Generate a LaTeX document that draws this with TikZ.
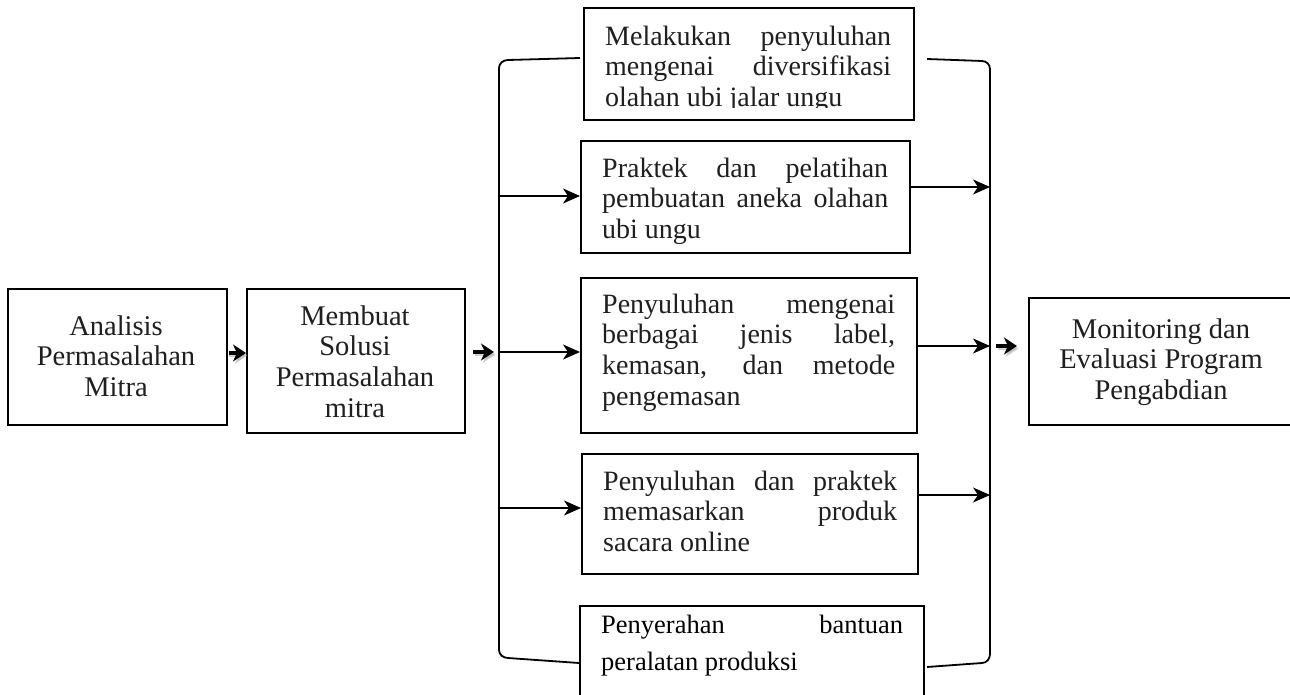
\documentclass[tikz,border=0pt]{standalone}
\usepackage{fontspec}
\setmainfont{Liberation Serif}
\usetikzlibrary{arrows.meta}
\newcommand{\jline}[2]{\makebox[#1][s]{\strut #2}}
\begin{document}
\begin{tikzpicture}[x=1pt,y=-1pt,
  box/.style={draw, line width=1.8pt, inner sep=0pt, anchor=north west},
  ctext/.style={inner sep=0pt, anchor=north, align=center, text=black!88, font=\fontsize{28.5}{30.7}\selectfont},
  jtext/.style={inner sep=0pt, anchor=north west, align=left, text=black!88, font=\fontsize{28}{30.7}\selectfont},
  ttext/.style={inner sep=0pt, anchor=north west, align=left, text=black, font=\fontsize{26.5}{37}\selectfont},
  arr/.style={line width=1.6pt, -{Stealth[length=17pt,width=15pt,inset=5pt]}},
  thk/.style={line width=3.6pt, -{Stealth[length=13pt,width=17pt,inset=4pt]}},
  shd/.style={line width=3.6pt, black!30, opacity=0.6, -{Stealth[length=13pt,width=17pt,inset=4pt]}},
  brk/.style={line width=1.8pt, line join=round}]
\useasboundingbox (0,0) rectangle (1290,695);
\fill[white] (0,0) rectangle (1290,695);

% boxes
\node[box, minimum width=219pt, minimum height=136pt] (bA) at (7,288) {};
\node[box, minimum width=218pt, minimum height=144pt] (bB) at (246,288) {};
\node[box, minimum width=330pt, minimum height=112pt] (b1) at (583,7) {};
\node[box, minimum width=329pt, minimum height=112pt] (b2) at (580,140) {};
\node[box, minimum width=336pt, minimum height=155pt] (b3) at (580,277) {};
\node[box, minimum width=336pt, minimum height=120pt] (b4) at (581,453) {};
\node[box, minimum width=344pt, minimum height=100pt] (b5) at (579,605) {};
\node[box, minimum width=270pt, minimum height=127pt] (bM) at (1028,297) {};

% texts
\node[ctext] (tA) at (116,313.5) {\strut Analisis\\Permasalahan\\Mitra};
\node[ctext] (tB) at (355,303.5) {\strut Membuat\\Solusi\\Permasalahan\\mitra};
\node[ctext] (tM) at (1161,316.5) {\strut Monitoring dan\\Evaluasi Program\\Pengabdian};
\begin{scope}
\clip (584,8) rectangle (912,107.5);
\node[jtext] (t1) at (605,23.5) {\jline{286pt}{Melakukan penyuluhan}\\\jline{286pt}{mengenai diversifikasi}\\\strut olahan ubi jalar ungu};
\end{scope}
\node[jtext] (t2) at (602,155.5) {\jline{286pt}{Praktek dan pelatihan}\\\jline{286pt}{pembuatan aneka olahan}\\\strut ubi ungu};
\node[jtext] (t3) at (602,291.5) {\jline{293pt}{Penyuluhan mengenai}\\\jline{293pt}{berbagai jenis label,}\\\jline{293pt}{kemasan, dan metode}\\\strut pengemasan};
\node[jtext] (t4) at (603,468.5) {\jline{294pt}{Penyuluhan dan praktek}\\\jline{294pt}{memasarkan produk}\\\strut sacara online};
\node[ttext] (t5) at (601,607.1) {\jline{302pt}{Penyerahan bantuan}\\\strut peralatan produksi};

% brackets
\coordinate (LT) at (580,58);
\coordinate (LB) at (579,663);
\coordinate (RT) at (927,59);
\coordinate (RB) at (927,667);
\draw[brk] (LT) -- (508,60) to[out=180,in=90] (499,68) -- (499,650) to[out=-90,in=180] (508,658) -- (LB);
\draw[brk] (RT) -- (982,61) to[out=0,in=90] (990,69) -- (990,654) to[out=-90,in=0] (982,663) -- (RB);

% arrows from left bracket
\coordinate (L2) at (499,196);
\coordinate (L3) at (499,352);
\coordinate (L4) at (499,508);
\draw[arr] (L2) -- (L2 -| b2.west);
\draw[arr] (L3) -- (L3 -| b3.west);
\draw[arr] (L4) -- (L4 -| b4.west);
% arrows to right bracket
\coordinate (R2) at (990,187);
\coordinate (R3) at (990,346);
\coordinate (R4) at (990,495);
\draw[arr] (R2 -| b2.east) -- (R2);
\draw[arr] (R3 -| b3.east) -- (R3);
\draw[arr] (R4 -| b4.east) -- (R4);

% thick short arrows
\coordinate (AB) at (0,353);
\coordinate (Bo) at (473,352);
\coordinate (Bi) at (494,352);
\coordinate (Mo) at (996,346);
\coordinate (Mi) at (1017,346);
\draw[shd] ([shift={(1.5,2.5)}]bA.east |- AB) -- ([shift={(1.5,2.5)}]bB.west |- AB);
\draw[shd] ([shift={(1.5,2.5)}]Bo) -- ([shift={(1.5,2.5)}]Bi);
\draw[shd] ([shift={(1.5,2.5)}]Mo) -- ([shift={(1.5,2.5)}]Mi);
\draw[thk, shorten <=1pt] (bA.east |- AB) -- (bB.west |- AB);
\draw[thk] (Bo) -- (Bi);
\draw[thk] (Mo) -- (Mi);
\end{tikzpicture}
\end{document}
